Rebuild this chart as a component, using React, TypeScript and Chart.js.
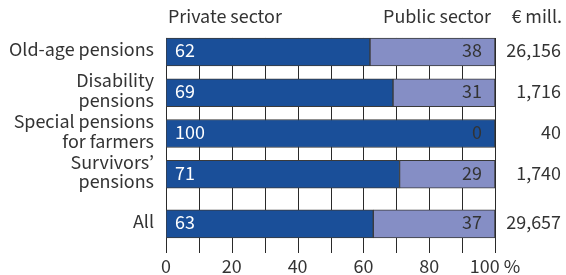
import React, { useEffect, useRef } from "react";
import { Chart, registerables } from "chart.js";

Chart.register(...registerables);

// ---- data ----
const categories: (string | string[])[] = [
  "Old-age pensions",
  ["Disability", "pensions"],
  ["Special pensions", "for farmers"],
  ["Survivors’", "pensions"],
  "All",
];
const privateShares = [62, 69, 100, 71, 63];
const publicShares = [38, 31, 0, 29, 37];
const totalsMill = ["26,156", "1,716", "40", "1,740", "29,657"];
const seriesNames = ["Private sector", "Public sector"];
const unitLabel = "€ mill.";
const xTickValues = [0, 20, 40, 60, 80, 100];
const percentSuffix = " %";

// ---- styles ----
const FONT = '"Source Sans 3", "Source Sans Pro", "Fira Sans", sans-serif';
const FONT_SIZE = 20;
const TEXT = "#333333";
const PRIVATE_COLOR = "#1a4f99";
const PUBLIC_COLOR = "#858ec5";
const BORDER = "#3a3a3a";
const GRID = "#2a2a2a";

const detailCount = categories.length - 1;

const barGridPlugin = {
  id: "barGrid",
  beforeDatasetsDraw(chart: any) {
    const { ctx, chartArea, scales } = chart;
    const x = scales.x;
    const first = chart.getDatasetMeta(0).data[0];
    if (!first) return;
    const { y, height } = first.getProps(["y", "height"], true);
    const top = y - height / 2;
    ctx.save();
    ctx.strokeStyle = GRID;
    ctx.lineWidth = 1;
    ctx.beginPath();
    for (let v = x.min; v <= x.max; v += 10) {
      const px = Math.round(x.getPixelForValue(v)) + 0.5;
      ctx.moveTo(px, top);
      ctx.lineTo(px, chartArea.bottom);
    }
    ctx.stroke();
    ctx.restore();
  },
};

const textPlugin = {
  id: "barTexts",
  afterDatasetsDraw(chart: any) {
    const { ctx, chartArea } = chart;
    ctx.save();
    ctx.font = `${FONT_SIZE}px ${FONT}`;
    ctx.textBaseline = "middle";
    chart.data.datasets.forEach((ds: any, di: number) => {
      const meta = chart.getDatasetMeta(di);
      meta.data.forEach((el: any, i: number) => {
        const { x, y, base } = el.getProps(["x", "y", "base"], true);
        const value = ds.data[i];
        if (ds.side === "private") {
          ctx.fillStyle = "#ffffff";
          ctx.textAlign = "left";
          ctx.fillText(String(value), base + 9, y + 1);
          ctx.fillStyle = TEXT;
          ctx.textAlign = "right";
          ctx.fillText(ds.totals[i], chart.width - 5, y + 1);
        } else {
          ctx.fillStyle = TEXT;
          ctx.textAlign = "right";
          ctx.fillText(String(value), x - 13, y + 1);
        }
      });
    });
    ctx.fillStyle = TEXT;
    ctx.textBaseline = "alphabetic";
    ctx.textAlign = "left";
    ctx.fillText(seriesNames[0], chartArea.left + 2, 23);
    ctx.textAlign = "right";
    ctx.fillText(seriesNames[1], chartArea.right - 4, 23);
    ctx.fillText(unitLabel, chart.width - 4, 23);
    ctx.restore();
  },
};

export default function App() {
  const ref = useRef<HTMLCanvasElement>(null);
  useEffect(() => {
    const canvas = ref.current!;
    const detailLabels = categories.slice(0, detailCount);
    const totalLabels = categories.slice(detailCount);
    const common = {
      borderColor: BORDER,
      borderWidth: 1,
      borderSkipped: false,
      barThickness: 28,
      grouped: false,
    };
    const yCommon = {
      type: "category" as const,
      stacked: true,
      stack: "rows",
      offset: true,
      grid: { display: false, drawTicks: false },
      border: { display: false },
      ticks: {
        color: TEXT,
        font: { family: FONT, size: FONT_SIZE, lineHeight: 0.98 },
        padding: 12,
        autoSkip: false,
      },
      afterFit: (s: any) => {
        s.width = 166;
      },
    };
    const chart = new Chart(canvas, {
      type: "bar",
      data: {
        labels: detailLabels as any,
        datasets: [
          {
            label: seriesNames[0],
            data: privateShares.slice(0, detailCount),
            backgroundColor: PRIVATE_COLOR,
            yAxisID: "y",
            side: "private",
            totals: totalsMill.slice(0, detailCount),
            ...common,
          } as any,
          {
            label: seriesNames[1],
            data: publicShares.slice(0, detailCount),
            backgroundColor: PUBLIC_COLOR,
            yAxisID: "y",
            side: "public",
            ...common,
          } as any,
          {
            label: seriesNames[0],
            data: privateShares.slice(detailCount),
            backgroundColor: PRIVATE_COLOR,
            yAxisID: "y2",
            side: "private",
            totals: totalsMill.slice(detailCount),
            ...common,
          } as any,
          {
            label: seriesNames[1],
            data: publicShares.slice(detailCount),
            backgroundColor: PUBLIC_COLOR,
            yAxisID: "y2",
            side: "public",
            ...common,
          } as any,
        ],
      },
      options: {
        indexAxis: "y",
        responsive: false,
        animation: false,
        layout: { padding: { top: 28.5, right: 71, left: 0, bottom: 0 } },
        plugins: {
          legend: { display: false },
          tooltip: { enabled: false },
        },
        scales: {
          x: {
            type: "linear",
            min: 0,
            max: 100,
            stacked: true,
            grid: { display: false, drawTicks: false },
            border: { display: false },
            afterBuildTicks: (s: any) => {
              s.ticks = xTickValues.map((v) => ({ value: v }));
            },
            ticks: {
              color: TEXT,
              font: { family: FONT, size: FONT_SIZE },
              padding: 4,
              maxRotation: 0,
              callback: (v: any) => (v === 100 ? v + percentSuffix : String(v)),
            },
            afterFit: (s: any) => {
              s.height = 22;
            },
          },
          y: { ...yCommon, labels: detailLabels, stackWeight: 164, weight: 1 } as any,
          y2: { ...yCommon, labels: totalLabels, stackWeight: 58.7, weight: 0 } as any,
        },
      } as any,
      plugins: [barGridPlugin, textPlugin],
    });
    return () => chart.destroy();
  }, []);
  return (
    <div style={{ position: "absolute", left: 0, top: 0, width: 566, height: 275, background: "#fff" }}>
      <canvas ref={ref} width={566} height={275} style={{ width: 566, height: 275, display: "block" }} />
    </div>
  );
}
